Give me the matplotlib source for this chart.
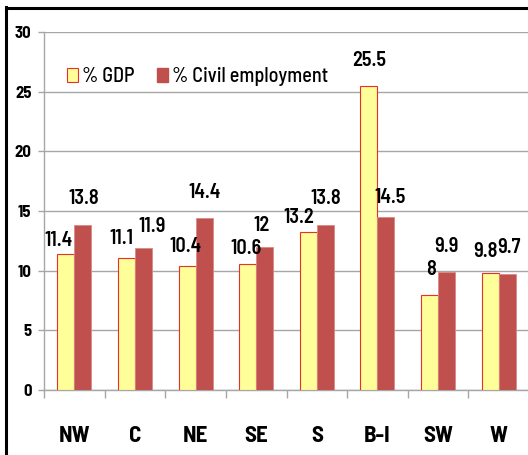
import matplotlib
matplotlib.use("Agg")
import matplotlib.pyplot as plt
from matplotlib.patches import Patch
from matplotlib.lines import Line2D

plt.rcParams['font.family'] = ['Barlow Semi Condensed', 'DejaVu Sans']

regions = ['NW', 'C', 'NE', 'SE', 'S', 'B-I', 'SW', 'W']
gdp = [11.4, 11.1, 10.4, 10.6, 13.2, 25.5, 8, 9.8]
civil = [13.8, 11.9, 14.4, 12, 13.8, 14.5, 9.9, 9.7]
gdp_txt = ['11.4', '11.1', '10.4', '10.6', '13.2', '25.5', '8', '9.8']
civil_txt = ['13.8', '11.9', '14.4', '12', '13.8', '14.5', '9.9', '9.7']

# label nudges in pixels (dx, dy above bar top)
gdp_nudge = [(-7, 4), (-5, 10), (-2, 10), (-2, 6), (-10, 5), (0, 16), (1, 16), (-5, 12)]
civil_nudge = [(1, 17), (9, 12), (0, 16), (-3, 12), (0, 17), (4, 10), (0, 16), (2, 17)]

yellow = '#FFFF99'
red = '#C0504D'
grid_c = '#A6A6A6'

fig = plt.figure(figsize=(5.28, 4.55), dpi=100)
ax = fig.add_axes([44 / 528, 65 / 455, 485 / 528, 358 / 455])

w = 0.28
x = list(range(len(regions)))
ax.bar([i - w / 2 for i in x], gdp, width=w, color=yellow, edgecolor='#E8302A',
       linewidth=0.8, zorder=3, label='% GDP')
ax.bar([i + w / 2 for i in x], civil, width=w, color=red, edgecolor='#D98A88',
       linewidth=0.6, zorder=3, label='% Civil employment')

for i in x:
    dx, dy = gdp_nudge[i]
    ax.annotate(gdp_txt[i], (i - w / 2, gdp[i]), xytext=(dx, dy),
                textcoords='offset pixels', ha='center', va='bottom',
                fontsize=14.5, fontweight='semibold', color='black', zorder=5)
    dx, dy = civil_nudge[i]
    ax.annotate(civil_txt[i], (i + w / 2, civil[i]), xytext=(dx, dy),
                textcoords='offset pixels', ha='center', va='bottom',
                fontsize=14.5, fontweight='semibold', color='black', zorder=5)

ax.set_xlim(-0.5, len(regions) - 0.5)
ax.set_ylim(0, 30)
ax.set_yticks(range(0, 31, 5))
ax.yaxis.grid(True, color=grid_c, linewidth=1, zorder=0)
ax.set_axisbelow(True)

ax.set_xticks([i + 0.5 for i in range(-1, len(regions))])
ax.set_xticklabels([])
ax.set_xticks(x, minor=True)
ax.set_xticklabels(regions, minor=True, fontsize=16.5, fontweight='bold')
ax.tick_params(axis='x', which='major', length=6, color=grid_c, width=1)
ax.tick_params(axis='x', which='minor', length=0, pad=26)
ax.tick_params(axis='y', length=4, color=grid_c, width=1, labelsize=12, pad=5)
for t in ax.get_yticklabels():
    t.set_fontweight('bold')

for s in ['top', 'right']:
    ax.spines[s].set_visible(False)
for s in ['left', 'bottom']:
    ax.spines[s].set_color(grid_c)
    ax.spines[s].set_linewidth(1)

handles = [Patch(facecolor=yellow, edgecolor='#E8302A', linewidth=0.8),
           Patch(facecolor=red, edgecolor=red)]
ax.legend(handles, ['% GDP', '% Civil employment'], ncol=2, frameon=False,
          loc='center left', bbox_to_anchor=(0.01, 0.875),
          prop={'size': 14.5, 'weight': 'medium'},
          handlelength=0.55, handleheight=0.65, handletextpad=0.2,
          columnspacing=1.1)

# black frame lines at left and top
fig.add_artist(Line2D([6 / 528, 6 / 528], [0, 1 - 7 / 455], color='black',
                      linewidth=2.2, transform=fig.transFigure))
fig.add_artist(Line2D([6 / 528, 1], [1 - 7.5 / 455, 1 - 7.5 / 455], color='black',
                      linewidth=2.2, transform=fig.transFigure))

fig.savefig('out.png', dpi=100)
